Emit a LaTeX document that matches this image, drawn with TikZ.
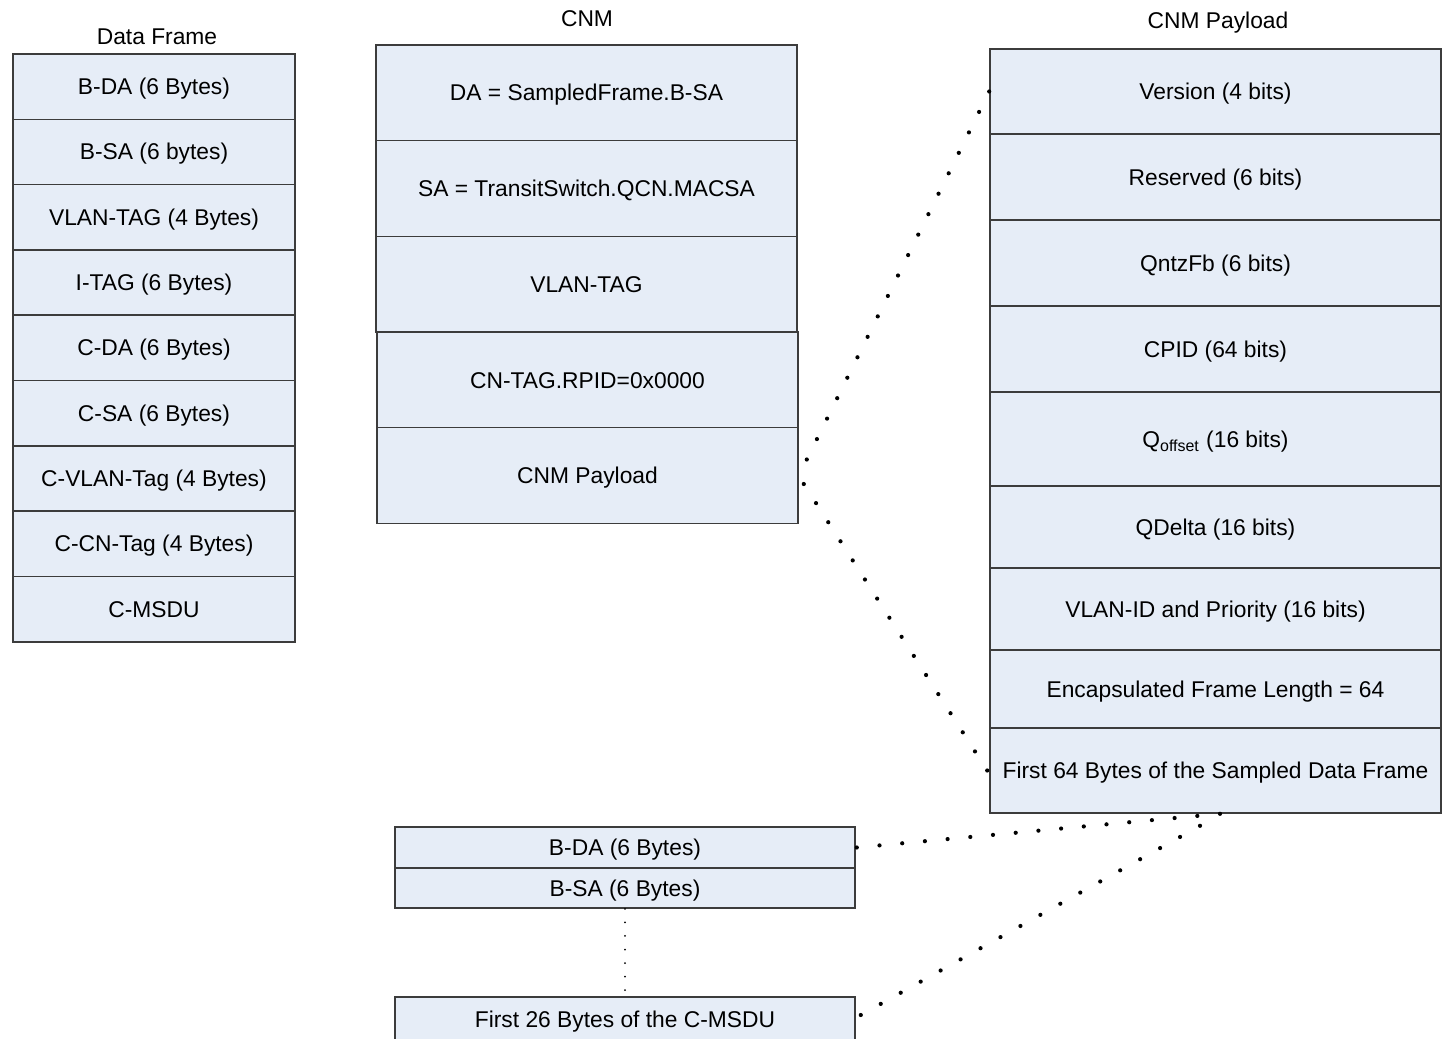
\documentclass[tikz,border=0pt]{standalone}
\usepackage{fontspec}
\setmainfont{Liberation Sans}
\usetikzlibrary{calc}
\definecolor{cellfill}{RGB}{230,237,247}
\definecolor{cellline}{RGB}{60,60,60}
\tikzset{
  cell/.style={draw=cellline, fill=cellfill, line width=0.8pt, inner sep=0pt,
    text height=8pt, text depth=0pt,
    font=\fontsize{11.4}{13.7}\selectfont, align=center},
  dfcell/.style={cell, minimum width=141pt, minimum height=32.65pt},
  cnmcell/.style={cell, minimum width=210.5pt, minimum height=47.85pt},
  paycell/.style={cell, minimum width=225.5pt},
  botcell/.style={cell, minimum width=230pt},
  ttl/.style={font=\fontsize{11.4}{13.7}\selectfont, inner sep=0pt},
  bigdot/.style={fill=black},
}
\begin{document}
\begin{tikzpicture}[x=0.5pt,y=-0.5pt]
\useasboundingbox (0,0) rectangle (1442,1039);

% ---- Data Frame ----
\node[ttl] (tdf) at (157,37) {Data Frame};
\foreach \t [count=\i] in {B-DA (6 Bytes), B-SA (6 bytes), VLAN-TAG (4 Bytes), I-TAG (6 Bytes), C-DA (6 Bytes), C-SA (6 Bytes), C-VLAN-Tag (4 Bytes), C-CN-Tag (4 Bytes), C-MSDU}
  \node[dfcell] (df\i) at (154,{54+65.3*(\i-0.5)}) {\t};

% ---- CNM ----
\node[ttl] (tcnm) at (587,19) {CNM};
\node[cnmcell] (cnm1) at (586.5,92.8) {DA = SampledFrame.B-SA};
\node[cnmcell] (cnm2) at (586.5,188.5) {SA = TransitSwitch.QCN.MACSA};
\node[cnmcell] (cnm3) at (586.5,284.2) {VLAN-TAG};
\node[cnmcell] (cnm4) at (587.5,380) {CN-TAG.RPID=0x0000};
\node[cnmcell] (cnm5) at (587.5,475.5) {CNM Payload};

% ---- CNM Payload ----
\node[ttl] (tpay) at (1218,23) {CNM Payload};
\node[paycell, minimum height=42.5pt] (p1) at (1215.5,91.5) {Version (4 bits)};
\node[paycell, minimum height=43pt] (p2) at (1215.5,177) {Reserved (6 bits)};
\node[paycell, minimum height=43pt] (p3) at (1215.5,263) {QntzFb (6 bits)};
\node[paycell, minimum height=43pt] (p4) at (1215.5,349) {CPID (64 bits)};
\node[paycell, minimum height=47pt] (p5) at (1215.5,439) {Q\textsubscript{offset} (16 bits)};
\node[paycell, minimum height=41pt] (p6) at (1215.5,527) {QDelta (16 bits)};
\node[paycell, minimum height=41pt] (p7) at (1215.5,609) {VLAN-ID and Priority (16 bits)};
\node[paycell, minimum height=39pt] (p8) at (1215.5,689) {Encapsulated Frame Length = 64};
\node[paycell, minimum height=42.5pt] (p9) at (1215.5,770.5) {First 64 Bytes of the Sampled Data Frame};

% ---- Bottom sampled frame ----
\node[botcell, minimum height=20.5pt] (bda) at (625,847.5) {B-DA (6 Bytes)};
\node[botcell, minimum height=20pt] (bsa) at (625,888) {B-SA (6 Bytes)};
\node[botcell, minimum height=22pt] (c26) at (625,1019) {First 26 Bytes of the C-MSDU};

% ---- dotted connectors ----
\coordinate (u0) at ($(cnm5.east)+(8,-16)$);
\coordinate (u1) at (p1.west);
\coordinate (l0) at ($(cnm5.east)+(5,8.5)$);
\coordinate (l1) at ($(p9.west)+(-2,0)$);
\coordinate (b0) at ($(bda.east)+(1,0)$);
\coordinate (b1) at ($(p9.south)+(4.5,0)$);
\coordinate (c0) at ($(c26.east)+(5,-4)$);
\coordinate (c1) at ($(p9.south)+(-15.5,12)$);
\coordinate (v0) at (bsa.south);
\coordinate (v1) at ($(c26.north)+(0,-6)$);

\foreach \i in {0,...,18} \fill[bigdot] ($(u0)!\i/18!(u1)$) circle (1.05pt);
\foreach \i in {0,...,15} \fill[bigdot] ($(l0)!\i/15!(l1)$) circle (1.05pt);
\foreach \i in {0,...,16} \fill[bigdot] ($(b0)!\i/16!(b1)$) circle (1.05pt);
\foreach \i in {0,...,17} \fill[bigdot] ($(c0)!\i/17!(c1)$) circle (1.05pt);
\foreach \i in {0,...,6} \fill[bigdot] ($(v0)!\i/6!(v1)$) circle (0.5pt);
\end{tikzpicture}
\end{document}
